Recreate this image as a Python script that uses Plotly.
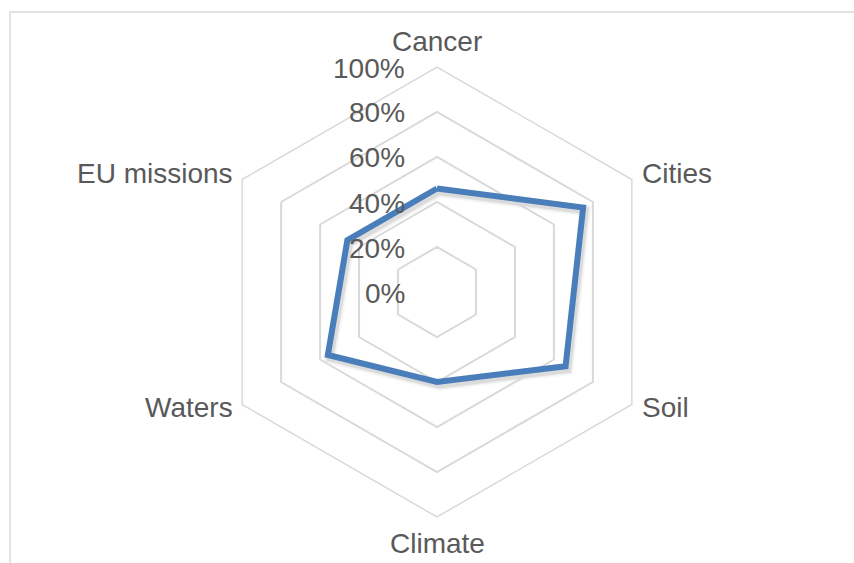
import math
import plotly.graph_objects as go

# Share of respondents per mission area (%)
categories = ["Cancer", "Cities", "Soil", "Climate", "Waters", "EU missions"]
values = [46, 75, 66, 40, 56, 46]
radial_ticks = [0, 20, 40, 60, 80, 100]
radial_labels = [f"{v}%" for v in radial_ticks]

W, H = 854, 563
cx, cy, R = 437, 292, 225  # chart centre and outer radius in px
RMAX = 100

theta = categories + categories[:1]
r = values + values[:1]

LINE = "#4A7EBB"
GRID = "#D9D9D9"
TEXT = "#595959"
FONT = "Liberation Sans, Arial, sans-serif"
FS = 28


def dom(dx=0, dy=0):
    return dict(
        x=[(cx - R + dx) / W, (cx + R + dx) / W],
        y=[(H - (cy + R + dy)) / H, (H - (cy - R + dy)) / H],
    )


def px(x, y):
    return x / W, 1 - y / H


hidden_radial = dict(range=[0, RMAX], visible=False)
hidden_angular = dict(
    type="category", categoryarray=categories, rotation=90,
    direction="clockwise", visible=False,
)

fig = go.Figure()

# soft drop shadow under the series line (offset subplot)
for w, a in [(12, 0.03), (9, 0.045), (7, 0.07)]:
    fig.add_trace(go.Scatterpolar(
        r=r, theta=theta, mode="lines", subplot="polar",
        line=dict(color=f"rgba(0,0,0,{a})", width=w),
        hoverinfo="skip", showlegend=False,
    ))

fig.add_trace(go.Scatterpolar(
    r=r, theta=theta, mode="lines", subplot="polar2",
    line=dict(color=LINE, width=6),
    showlegend=False, name="Series",
))

annotations = []

# category labels around the outer ring
n = len(categories)
for i, cat in enumerate(categories):
    ang = math.radians(90 - 360 * i / n)
    vx = cx + R * math.cos(ang)
    vy = cy - R * math.sin(ang)
    c = math.cos(ang)
    if abs(c) < 1e-6:
        xa = "center"
        tx = vx
        ty = vy - 25 if math.sin(ang) > 0 else vy + 26
    elif c > 0:
        xa, tx, ty = "left", vx + 8, vy - 6 if math.sin(ang) > 0 else vy + 3
    else:
        xa, tx, ty = "right", vx - 7, vy - 6 if math.sin(ang) > 0 else vy + 3
    x, y = px(tx, ty)
    annotations.append(dict(
        x=x, y=y, xref="paper", yref="paper", text=cat, showarrow=False,
        xanchor=xa, yanchor="middle",
        font=dict(size=FS, color=TEXT, family=FONT),
    ))

# radial value labels left of the vertical axis
for v, lab in zip(radial_ticks, radial_labels):
    x, y = px(cx - 30, cy - R * v / RMAX + 1)
    annotations.append(dict(
        x=x, y=y, xref="paper", yref="paper", text=lab, showarrow=False,
        xanchor="right", yanchor="middle",
        font=dict(size=FS, color=TEXT, family=FONT),
    ))

fig.update_layout(
    width=W, height=H,
    margin=dict(l=0, r=0, t=0, b=0),
    paper_bgcolor="white",
    font=dict(family=FONT, color=TEXT, size=FS),
    polar=dict(
        domain=dom(2, 3),
        bgcolor="rgba(0,0,0,0)",
        gridshape="linear",
        radialaxis=hidden_radial,
        angularaxis=hidden_angular,
    ),
    polar2=dict(
        domain=dom(),
        bgcolor="rgba(0,0,0,0)",
        gridshape="linear",
        radialaxis=dict(
            range=[0, RMAX],
            tickvals=radial_ticks,
            angle=90,
            showline=False,
            showgrid=True,
            gridcolor=GRID,
            gridwidth=1.5,
            ticks="",
            showticklabels=False,
        ),
        angularaxis=dict(
            type="category",
            categoryarray=categories,
            rotation=90,
            direction="clockwise",
            showgrid=False,
            showline=True,
            linecolor=GRID,
            linewidth=1.5,
            ticks="",
            showticklabels=False,
        ),
    ),
    annotations=annotations,
    shapes=[dict(
        type="rect", xref="paper", yref="paper",
        x0=10 / W, x1=1.05, y0=-0.05, y1=1 - 12 / H,
        line=dict(color=GRID, width=1.5), fillcolor="rgba(0,0,0,0)",
        layer="below",
    )],
)

fig.write_html("out.html")
